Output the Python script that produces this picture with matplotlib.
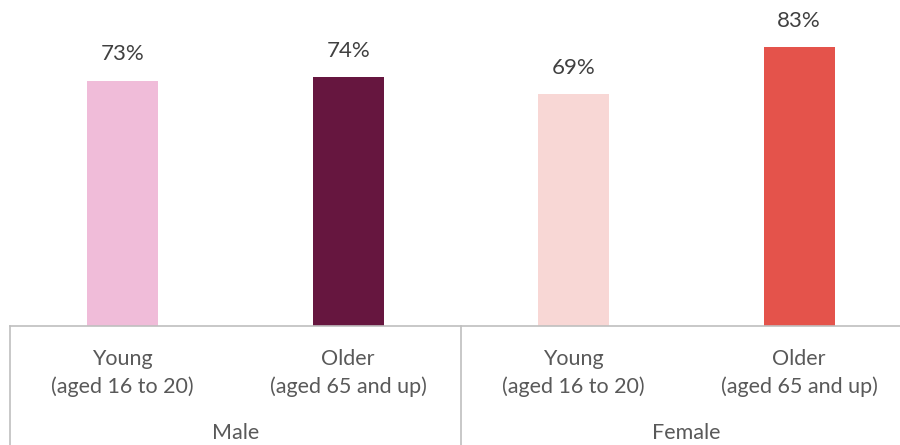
import matplotlib.pyplot as plt
import matplotlib.transforms as mtransforms

plt.rcParams['font.family'] = ['Lato', 'DejaVu Sans']

groups = ["Male", "Female"]
categories = ["Young\n(aged 16 to 20)", "Older\n(aged 65 and up)",
              "Young\n(aged 16 to 20)", "Older\n(aged 65 and up)"]
values = [73, 74, 69, 83]
colors = ["#F0BCD9", "#66163F", "#F8D7D5", "#E4534B"]

fig = plt.figure(figsize=(9, 4.45), dpi=100)
ax = fig.add_axes([10 / 900, 119 / 445, 902 / 900, 326 / 445])

x = list(range(len(values)))
bars = ax.bar(x, values, width=0.315, color=colors)
ax.set_xlim(-0.5, 3.5)
ax.set_ylim(0, 97)

for b, v in zip(bars, values):
    ax.annotate(f"{v}%", (b.get_x() + b.get_width() / 2, v),
                xytext=(0, 19), textcoords="offset points",
                ha="center", va="center", fontsize=16, color="#404040")

for s in ax.spines.values():
    s.set_visible(False)
ax.set_xticks([])
ax.set_yticks([])

grey = "#BFBFBF"
trans = mtransforms.blended_transform_factory(ax.transData, ax.transAxes)
ax.plot([-0.5, 3.5], [0, 0], color=grey, lw=1.2, transform=trans, clip_on=False)
for xv in [-0.5, 1.5]:
    ax.plot([xv, xv], [0, -0.4], color=grey, lw=1.2, transform=trans, clip_on=False)

fig_trans = mtransforms.blended_transform_factory(ax.transData, fig.transFigure)
for i, lab in enumerate(categories):
    top, bottom = lab.split("\n")
    ax.text(i, 1 - 359 / 445, top, transform=fig_trans, ha="center", va="center",
            fontsize=15.5, color="#595959")
    ax.text(i, 1 - 387 / 445, bottom, transform=fig_trans, ha="center", va="center",
            fontsize=15.5, color="#595959")
for j, g in enumerate(groups):
    ax.text(0.5 + 2 * j, 1 - 433 / 445, g, transform=fig_trans, ha="center", va="center",
            fontsize=15.5, color="#595959")

fig.savefig("out.png", dpi=100)
